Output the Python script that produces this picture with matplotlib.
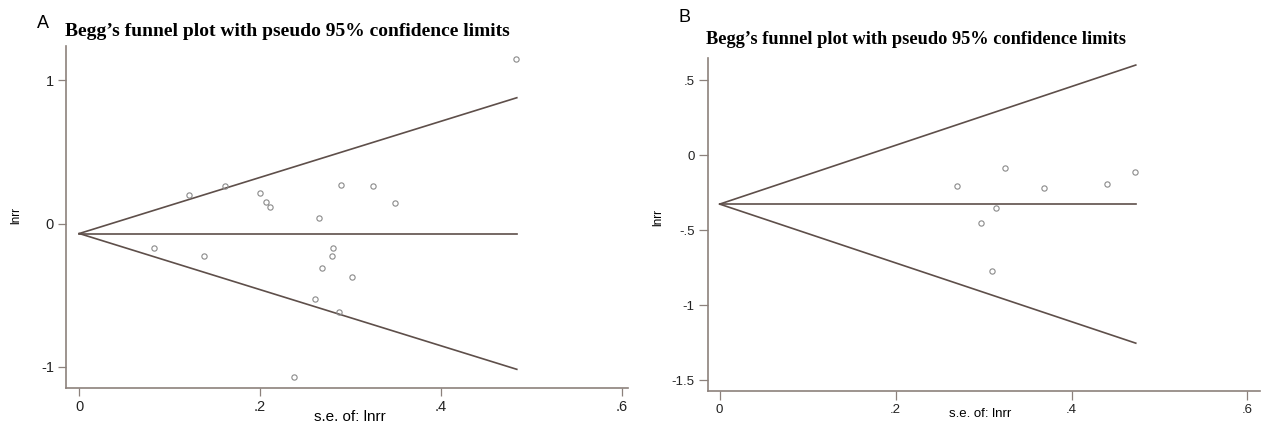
import matplotlib
matplotlib.use('Agg')
import matplotlib.pyplot as plt
from matplotlib.ticker import FixedLocator, FixedFormatter
import numpy as np

W, H = 1265, 428

# panel A data (s.e. of lnrr, lnrr)
se_a = [0.483, 0.121, 0.161, 0.200, 0.207, 0.211, 0.290, 0.325, 0.349, 0.265,
        0.083, 0.138, 0.281, 0.280, 0.269, 0.302, 0.261, 0.287, 0.237]
lnrr_a = [1.146, 0.197, 0.265, 0.214, 0.151, 0.112, 0.272, 0.262, 0.140, 0.039,
          -0.174, -0.228, -0.174, -0.228, -0.310, -0.372, -0.528, -0.621, -1.070]
pooled_a = -0.07
se_max_a = 0.484

# panel B data
se_b = [0.2695, 0.3248, 0.369, 0.440, 0.4724, 0.3139, 0.2976, 0.3093]
lnrr_b = [-0.204, -0.089, -0.218, -0.196, -0.111, -0.350, -0.451, -0.771]
pooled_b = -0.327
se_max_b = 0.473

xticks = [0, 0.2, 0.4, 0.6]
xticklabels = ['0', '.2', '.4', '.6']
yticks_a = [-1, 0, 1]
yticklabels_a = ['-1', '0', '1']
yticks_b = [-1.5, -1, -0.5, 0, 0.5]
yticklabels_b = ['-1.5', '-1', '-.5', '0', '.5']

title = "Begg\u2019s funnel plot with pseudo 95% confidence limits"

line_col = '#5e4f4a'
spine_col = '#8c817c'
pt_col = '#8a8a8a'


def box(left, top, right, bottom):
    return [left / W, 1 - bottom / H, (right - left) / W, (bottom - top) / H]


def funnel(ax, se, lnrr, pooled, se_max, xlim, ylim, yticks, yticklabels,
           labelsize, ticklen):
    s = np.array([0, se_max])
    ax.plot(s, pooled + 1.96 * s, color=line_col, lw=1.2)
    ax.plot(s, pooled - 1.96 * s, color=line_col, lw=1.2)
    ax.plot(s, [pooled, pooled], color=line_col, lw=1.2)
    ax.plot(se, lnrr, 'o', ms=3.8, mfc='none', mec=pt_col, mew=0.8)
    ax.set_xlim(*xlim)
    ax.set_ylim(*ylim)
    ax.xaxis.set_major_locator(FixedLocator(xticks))
    ax.xaxis.set_major_formatter(FixedFormatter(xticklabels))
    ax.yaxis.set_major_locator(FixedLocator(yticks))
    ax.yaxis.set_major_formatter(FixedFormatter(yticklabels))
    for side in ('top', 'right'):
        ax.spines[side].set_visible(False)
    for side in ('left', 'bottom'):
        ax.spines[side].set_color(spine_col)
        ax.spines[side].set_linewidth(1.2)
    ax.tick_params(length=ticklen, width=0.9, color=spine_col,
                   labelsize=labelsize, pad=3, labelcolor='#222222')


plt.rcParams['font.family'] = ['Liberation Sans', 'DejaVu Sans']
fig = plt.figure(figsize=(W / 100, H / 100), dpi=100)

ax_a = fig.add_axes(box(65.7, 46, 628, 387.7))
funnel(ax_a, se_a, lnrr_a, pooled_a, se_max_a, (-0.015, 0.607), (-1.147, 1.24),
       yticks_a, yticklabels_a, 10.5, 5.5)

ax_b = fig.add_axes(box(707.8, 58.3, 1259.8, 390.7))
funnel(ax_b, se_b, lnrr_b, pooled_b, se_max_b, (-0.0135, 0.614), (-1.571, 0.645),
       yticks_b, yticklabels_b, 9.5, 6.5)

# titles, panel letters and axis labels
fig.text(65.3 / W, 1 - 32 / H, title, family='Liberation Serif', weight='bold',
         fontsize=14, va='center', ha='left')
fig.text(705.8 / W, 1 - 39 / H, title, family='Liberation Serif', weight='bold',
         fontsize=13.2, va='center', ha='left')
fig.text(43 / W, 1 - 23 / H, 'A', fontsize=13, va='center', ha='center')
fig.text(684 / W, 1 - 18 / H, 'B', fontsize=13, va='center', ha='center')

fig.text(16 / W, 1 - 215 / H, 'lnrr', rotation=90, fontsize=8.5, va='center', ha='center')
fig.text(658 / W, 1 - 218 / H, 'lnrr', rotation=90, fontsize=8.5, va='center', ha='center')
fig.text(350 / W, 1 - 417 / H, 's.e. of: lnrr', fontsize=11, va='center', ha='center')
fig.text(980 / W, 1 - 414 / H, 's.e. of: lnrr', fontsize=9.5, va='center', ha='center')

fig.savefig('out.png', dpi=100)
